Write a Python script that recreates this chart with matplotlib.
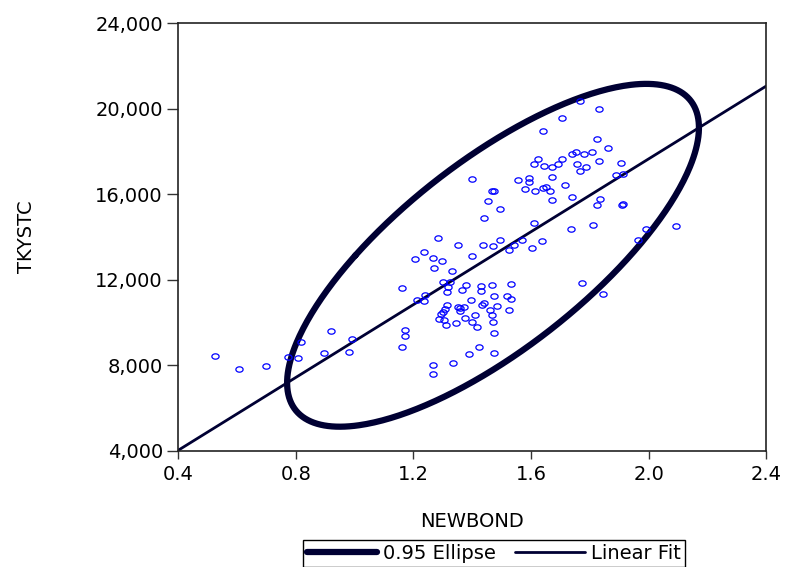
import numpy as np
import matplotlib
matplotlib.use("Agg")
import matplotlib.pyplot as plt
from matplotlib.ticker import FuncFormatter

# NEWBOND vs TKYSTC
newbond = [0.525, 0.607, 0.697, 0.772, 0.806, 0.817, 0.920, 0.895, 0.990, 0.981,
           1.160, 1.171, 1.171, 1.160, 1.205, 1.235, 1.265, 1.296, 1.270, 1.330,
           1.299, 1.324, 1.316, 1.239, 1.213, 1.237, 1.315, 1.364, 1.379, 1.429,
           1.429, 1.466, 1.530, 1.474, 1.519, 1.531, 1.395, 1.440, 1.434, 1.485,
           1.524, 1.315, 1.307, 1.299, 1.293, 1.350, 1.358, 1.371, 1.358, 1.460,
           1.466, 1.410, 1.287, 1.304, 1.376, 1.470, 1.400, 1.345, 1.311, 1.415,
           1.474, 1.423, 1.389, 1.474, 1.335, 1.265, 1.265, 1.350, 1.435, 1.471,
           1.494, 1.541, 1.525, 1.570, 1.604, 1.400, 1.284, 1.636,
           1.766, 1.830, 1.706, 1.640, 1.823, 1.860, 1.739, 1.753, 1.779, 1.806,
           1.706, 1.624, 1.610, 1.644, 1.670, 1.690, 1.755, 1.785, 1.766, 1.830,
           1.904, 1.888, 1.912, 1.400, 1.554, 1.594, 1.594, 1.671, 1.580, 1.614,
           1.639, 1.650, 1.665, 1.714, 1.671, 1.740, 1.466, 1.474, 1.455, 1.494,
           1.439, 1.609, 1.835, 1.823, 1.908, 1.913, 1.735, 1.809, 1.989, 2.093,
           1.964, 1.774, 1.845]
tkystc = [8430, 7850, 7990, 8380, 8360, 9090, 9590, 8590, 9230, 8640,
          11600, 9640, 9390, 8870, 12990, 13290, 13020, 12890, 12540, 12430,
          11910, 11880, 11680, 11300, 11060, 11020, 11420, 11510, 11770, 11720,
          11490, 11770, 11790, 11260, 11260, 11100, 11040, 10930, 10840, 10790,
          10600, 10820, 10640, 10510, 10400, 10720, 10680, 10740, 10560, 10600,
          10360, 10370, 10150, 10120, 10230, 10010, 10040, 9980, 9900, 9780,
          9530, 8850, 8530, 8590, 8130, 8000, 7580, 13630, 13610, 13590,
          13860, 13640, 13390, 13860, 13500, 13100, 13970, 13790,
          20360, 19980, 19560, 18950, 18580, 18170, 17890, 17990, 17890, 17970,
          17630, 17630, 17430, 17300, 17260, 17410, 17430, 17270, 17080, 17570,
          17460, 16880, 16940, 16720, 16660, 16760, 16570, 16800, 16230, 16160,
          16290, 16350, 16160, 16420, 15740, 15860, 16150, 16150, 15700, 15320,
          14890, 14670, 15760, 15480, 15480, 15540, 14360, 14560, 14390, 14530,
          13860, 11870, 11340]

x_ticks = [0.4, 0.8, 1.2, 1.6, 2.0, 2.4]
y_ticks = [4000, 8000, 12000, 16000, 20000, 24000]
chi2_95 = 5.991  # 2 d.f.

navy = "#000033"
fnt = "DejaVu Sans"
fs = 14

x = np.array(newbond)
y = np.array(tkystc)

fig = plt.figure(figsize=(7.87, 5.67), dpi=100)
ax = fig.add_axes([0.2264, 0.2046, 0.7474, 0.7548])

# 0.95 ellipse from the sample mean and covariance
mu = np.array([x.mean(), y.mean()])
cov = np.cov(x, y)
vals, vecs = np.linalg.eigh(cov)
t = np.linspace(0, 2 * np.pi, 400)
circ = np.vstack([np.cos(t), np.sin(t)])
ell = vecs @ (np.sqrt(chi2_95 * vals)[:, None] * circ) + mu[:, None]
ax.plot(ell[0], ell[1], color=navy, lw=4.5, label="0.95 Ellipse", solid_capstyle="round")

# linear fit
b, a = np.polyfit(x, y, 1)
xf = np.array([x_ticks[0], x_ticks[-1]])
ax.plot(xf, a + b * xf, color=navy, lw=2.0, label="Linear Fit", solid_capstyle="round")

# slightly wide circles, as in the picture
th = np.linspace(0, 2 * np.pi, 40)
wide_circle = np.column_stack([1.35 * np.cos(th), np.sin(th)])
ax.plot(x, y, ls="none", marker=wide_circle, ms=5.2, mfc="none", mec="#0000ff", mew=0.9)

ax.set_xlim(x_ticks[0], x_ticks[-1])
ax.set_ylim(y_ticks[0], y_ticks[-1])
ax.set_xticks(x_ticks)
ax.set_yticks(y_ticks)
ax.xaxis.set_major_formatter(FuncFormatter(lambda v, p: f"{v:.1f}"))
ax.yaxis.set_major_formatter(FuncFormatter(lambda v, p: f"{v:,.0f}"))
ax.tick_params(axis="x", direction="out", length=6, width=1, color="#333333",
               labelsize=fs, pad=4)
ax.tick_params(axis="y", direction="out", length=8, width=1, color="#333333",
               labelsize=fs, pad=3)
for lab in ax.get_xticklabels() + ax.get_yticklabels():
    lab.set_family(fnt)
for sp in ax.spines.values():
    sp.set_linewidth(1.2)
    sp.set_color("#222222")

ax.set_xlabel("NEWBOND", fontsize=fs, family=fnt, labelpad=20)
ax.set_ylabel("TKYSTC", fontsize=fs, family=fnt, labelpad=43)

leg = fig.legend(loc="upper center", bbox_to_anchor=(494 / 787, 1 - 540 / 567), ncol=2,
                 fancybox=False, edgecolor="black", framealpha=1,
                 prop={"family": fnt, "size": fs}, handlelength=3.6,
                 handletextpad=0.3, columnspacing=1.0, borderpad=0.2,
                 borderaxespad=0)
leg.get_frame().set_linewidth(1.0)
for h in leg.get_lines():
    h.set_solid_capstyle("round")

fig.savefig("out.png", dpi=100)
